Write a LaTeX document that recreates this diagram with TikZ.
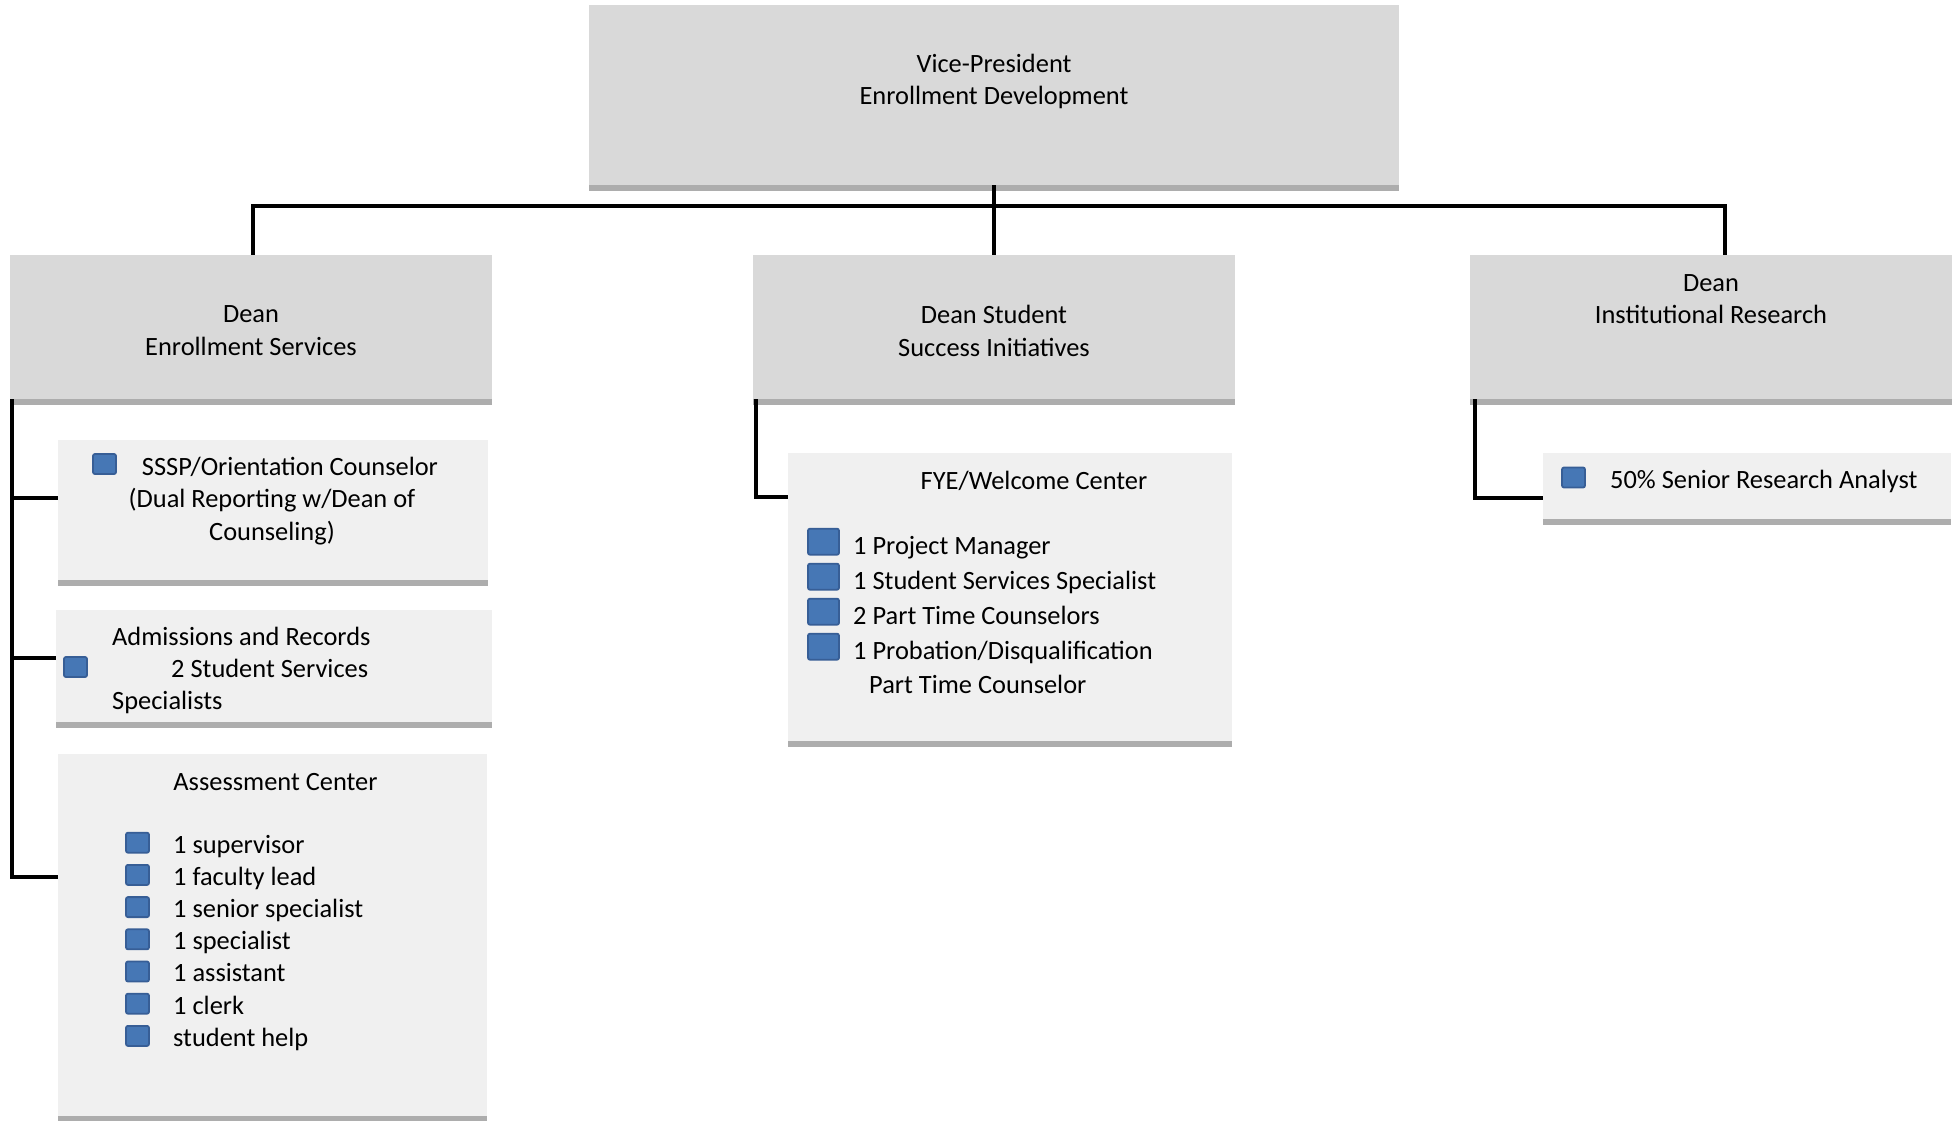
\documentclass[tikz,border=0pt]{standalone}
\usepackage{fontspec}
\setmainfont{Carlito}
\definecolor{topfill}{HTML}{D9D9D9}
\definecolor{subfill}{HTML}{F0F0F0}
\definecolor{barcol}{HTML}{ADADAD}
\definecolor{bulfill}{HTML}{4677B5}
\definecolor{bulline}{HTML}{375E96}
\newcommand\chartfont{\fontsize{26.4}{32.5}\selectfont}
\begin{document}
\begin{tikzpicture}[x=1pt,y=-1pt,
  topbox/.style={fill=topfill, draw=none, inner sep=0pt, outer sep=0pt},
  subbox/.style={fill=subfill, draw=none, inner sep=0pt, outer sep=0pt},
  conn/.style={line width=3.2pt, line join=miter},
  txt/.style={inner sep=0pt, font=\chartfont, execute at begin node=\strut, execute at end node=\strut},
  bul/.style={fill=bulfill, draw=bulline, line width=1.8pt, rounded corners=2pt, inner sep=0pt, minimum width=23pt, minimum height=20pt},
  bigbul/.style={bul, minimum width=31pt, minimum height=26pt}
]
\useasboundingbox (0,0) rectangle (1957,1121);
% boxes
\node[topbox, minimum width=810pt, minimum height=180pt] (vp) at (994,95) {};
\node[topbox, minimum width=482pt, minimum height=144pt] (des) at (251,327) {};
\node[topbox, minimum width=482pt, minimum height=144pt] (dss) at (994,327) {};
\node[topbox, minimum width=482pt, minimum height=144pt] (dir) at (1711,327) {};
\node[subbox, minimum width=430pt, minimum height=140pt] (sssp) at (273,510) {};
\node[subbox, minimum width=436pt, minimum height=112pt] (adm) at (274,666) {};
\node[subbox, minimum width=429pt, minimum height=362pt] (ac) at (272.5,935) {};
\node[subbox, minimum width=444pt, minimum height=288pt] (fye) at (1010,597) {};
\node[subbox, minimum width=408pt, minimum height=66pt] (sra) at (1747,486) {};
\foreach \n in {vp,des,dss,dir,sssp,adm,ac,fye,sra}
  \fill[barcol] (\n.south west) rectangle ([yshift=-5.5pt]\n.south east);
% connectors
\coordinate (hub) at (994,206);
\draw[conn] (vp.south) -- (hub);
\draw[conn] (hub) -| ([xshift=2pt]des.north);
\draw[conn] (hub) -- (dss.north);
\draw[conn] (hub) -| ([xshift=14pt]dir.north);
\coordinate (sp1) at ([xshift=2pt]des.south west);
\draw[conn] (sp1) |- ([yshift=12pt]sssp.west);
\draw[conn] (sp1) |- ([yshift=8pt]adm.west);
\draw[conn] (sp1) |- ([yshift=-123pt]ac.north west);
\coordinate (sp2) at ([xshift=3pt]dss.south west);
\draw[conn] (sp2) |- ([yshift=-44pt]fye.north west);
\coordinate (sp3) at ([xshift=5pt]dir.south west);
\draw[conn] (sp3) |- ([yshift=-12pt]sra.west);
% texts of top boxes
\node[txt, align=center] (tvp) at (994,84) {Vice-President\\Enrollment Development};
\node[txt, align=center] (tdes) at (251,335.6) {Dean\\Enrollment Services};
\node[txt, align=center] (tdss) at (994,335.6) {Dean Student\\Success Initiatives};
\node[txt, align=center] (tdir) at (1711,304) {Dean\\Institutional Research};
% SSSP
\node[bul] (bsssp) at (104.5,464) {};
\node[txt] (tsssp1) at (290,468.5) {SSSP/Orientation Counselor};
\node[txt, align=center] (tsssp2) at (272,519) {(Dual Reporting w/Dean of\\Counseling)};
% Admissions
\node[bul] (badm) at (75.5,667) {};
\node[txt, anchor=west] (tadm1) at (112,638.5) {Admissions and Records};
\node[txt, anchor=west] (tadm2) at (171,670.5) {2 Student Services};
\node[txt, anchor=west] (tadm3) at (112,702.5) {Specialists};
% Assessment center
\node[txt] (tac) at (275.5,783.5) {Assessment Center};
\foreach \t [count=\i from 0] in {1 supervisor, 1 faculty lead, 1 senior specialist, 1 specialist, 1 assistant, 1 clerk, student help} {
  \node[bul] (acb\i) at (137.5,842.7+32.2*\i) {};
  \node[txt, anchor=west] (act\i) at (173,846.5+32.2*\i) {\t};
}
% FYE
\node[txt] (tfye) at (1034,482.5) {FYE/Welcome Center};
\foreach \t [count=\i from 0] in {1 Project Manager, 1 Student Services Specialist, 2 Part Time Counselors, 1 Probation/Disqualification} {
  \node[bigbul] (fyb\i) at (823.5,541.7+35*\i) {};
  \node[txt, anchor=west] (fyt\i) at (853,548.2+35*\i) {\t};
}
\node[txt, anchor=west] (fyt4) at (869,686.5) {Part Time Counselor};
% Research analyst
\node[bul] (bsra) at (1573.5,477.5) {};
\node[txt, anchor=west] (tsra) at (1610,481.5) {50\% Senior Research Analyst};
\end{tikzpicture}
\end{document}
